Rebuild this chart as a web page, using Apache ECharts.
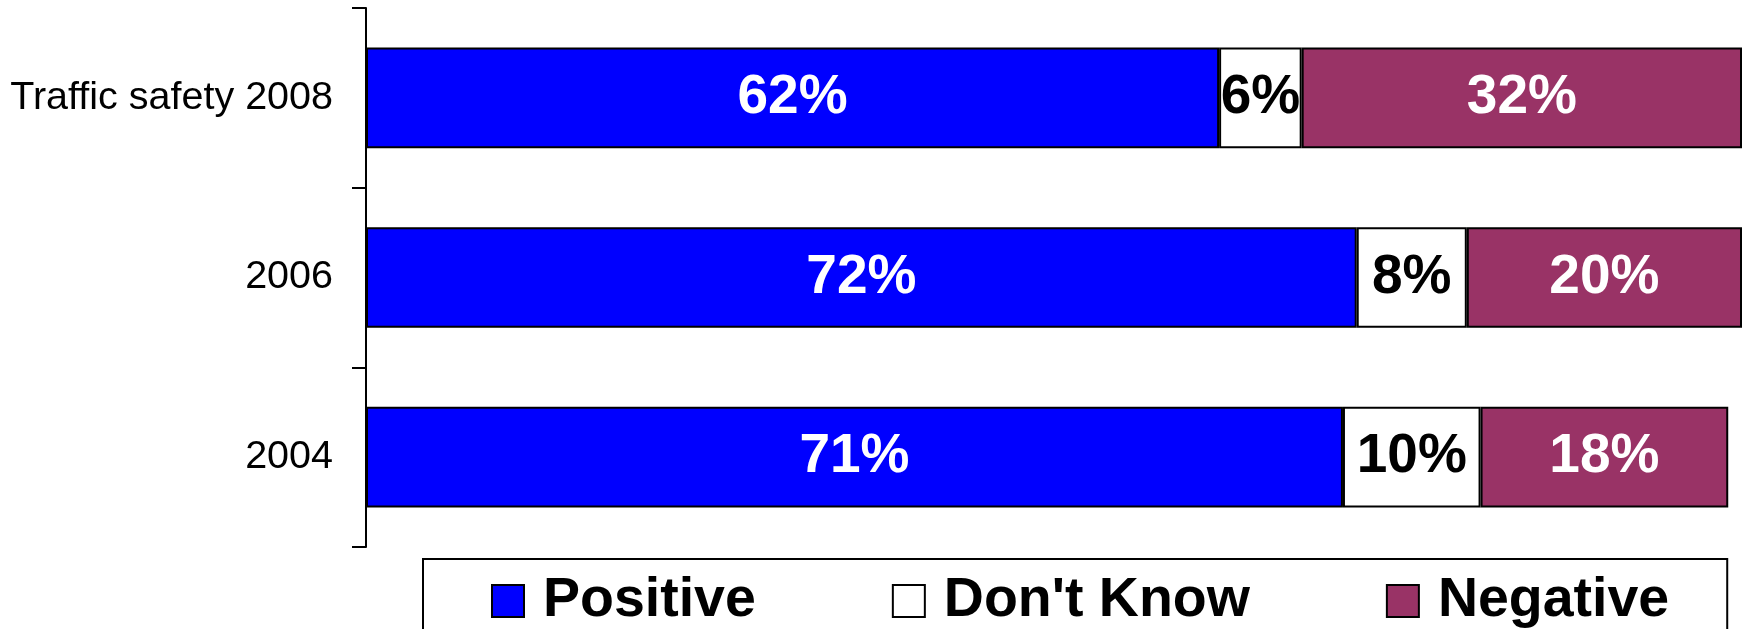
<!DOCTYPE html>
<html>
<head>
<meta charset="utf-8">
<script src="https://cdn.jsdelivr.net/npm/echarts@6/dist/echarts.min.js"></script>
<style>
  html, body { margin: 0; padding: 0; background: #fff; }
  #chart { width: 1742px; height: 629px; }
</style>
</head>
<body>
<div id="chart"></div>
<script>
// Survey rows, top to bottom
const categories = ['Traffic safety 2008', '2006', '2004'];
// Share of answers per row, in percent
const positive = [62, 72, 71];
const dontKnow = [6, 8, 10];
const negative = [32, 20, 18];

const FONT = '"Liberation Sans", Arial, sans-serif';

function stackSeries(name, data, fill, labelColor) {
  return {
    name: name,
    type: 'bar',
    stack: 'total',
    data: data,
    barCategoryGap: '44%',
    itemStyle: { color: fill, borderColor: '#000', borderWidth: 2 },
    label: {
      show: true,
      position: 'inside',
      formatter: '{c}%',
      color: labelColor,
      fontFamily: FONT,
      fontWeight: 'bold',
      fontSize: 55
    },
    emphasis: { disabled: true }
  };
}

const chart = echarts.init(document.getElementById('chart'), null, { renderer: 'canvas' });
chart.setOption({
  animation: false,
  backgroundColor: '#fff',
  grid: { left: 366, right: 0, top: 8, bottom: 82, containLabel: false },
  xAxis: {
    type: 'value',
    min: 0,
    max: 100,
    show: false
  },
  yAxis: {
    type: 'category',
    data: categories,
    inverse: true,
    axisLine: { show: true, lineStyle: { color: '#000', width: 2 } },
    axisTick: { show: true, length: 14, lineStyle: { color: '#000', width: 2 } },
    axisLabel: { color: '#000', fontFamily: FONT, fontSize: 39.5, margin: 33 },
    splitLine: { show: false }
  },
  legend: {
    data: ['Positive', "Don't Know", 'Negative'],
    left: 423,
    top: 559,
    orient: 'horizontal',
    icon: 'rect',
    itemGap: 136,
    itemWidth: 32,
    itemHeight: 32,
    padding: [14, 58, 40, 68],
    borderColor: '#000',
    borderWidth: 2,
    backgroundColor: '#fff',
    selectedMode: false,
    textStyle: {
      color: '#000',
      fontFamily: FONT,
      fontWeight: 'bold',
      fontSize: 55.5,
      padding: [0, 0, 0, 14]
    },
    itemStyle: { borderColor: '#000', borderWidth: 2 }
  },
  series: [
    stackSeries('Positive', positive, '#0000ff', '#fff'),
    stackSeries("Don't Know", dontKnow, '#ffffff', '#000'),
    stackSeries('Negative', negative, '#993366', '#fff')
  ]
});
</script>
</body>
</html>
